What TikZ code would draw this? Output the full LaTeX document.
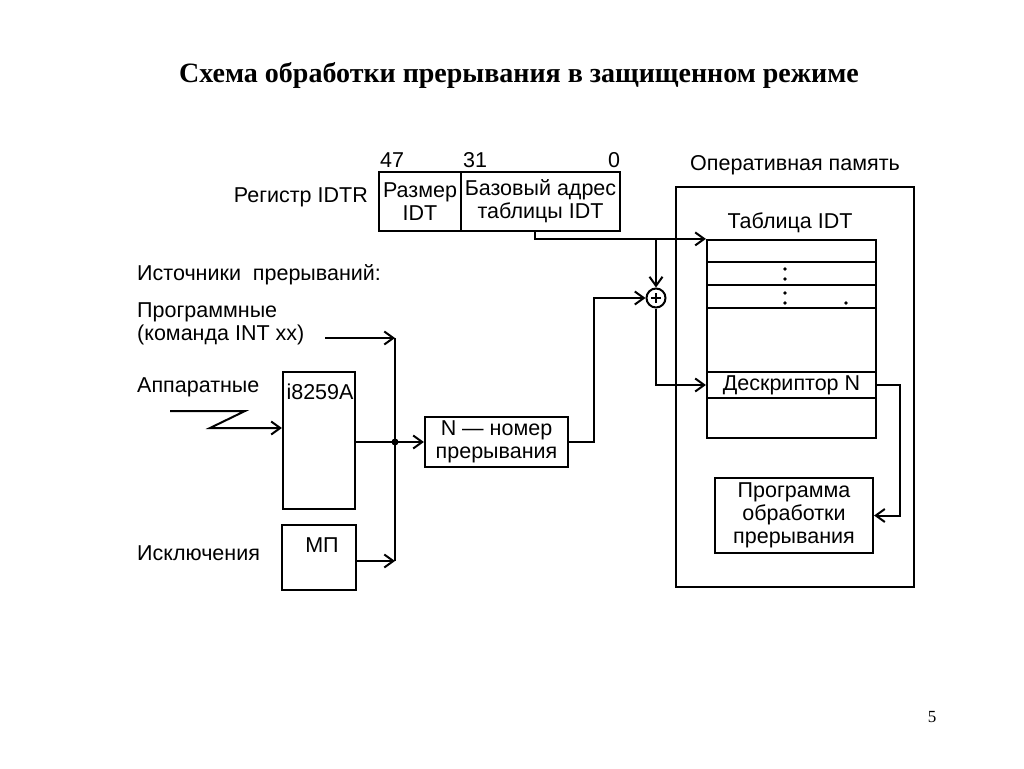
\documentclass[tikz,border=0pt]{standalone}
\usepackage{fontspec}
\setmainfont{Liberation Sans}
\newfontfamily\titlefont{Liberation Serif}
\usepackage{tikz}
\usetikzlibrary{arrows.meta}
\tikzset{>/.tip={Straight Barb[length=9pt,width=13pt,line width=2pt]},
  box/.style={draw, line width=2.2pt, inner sep=0pt, align=center},
  wire/.style={line width=2pt},
  txt/.style={font=\fontsize{21.5}{23}\selectfont, inner sep=0pt, align=center}}

\begin{document}
\begin{tikzpicture}[x=1pt, y=-1pt, every node/.style={txt}]
\useasboundingbox (0,0) rectangle (1024,768);
\node (title) at (519,75) {\titlefont\bfseries\fontsize{28}{30}\selectfont Схема обработки прерывания в защищенном режиме};
\node (page) at (932,717) {\titlefont\fontsize{17}{19}\selectfont 5};

% register
\node[box, minimum width=82, minimum height=59] (size) at (420,201.5) {Размер\\IDT};
\node[box, minimum width=159, minimum height=59] (base) at (540.5,201.5) {Базовый адрес\\таблицы IDT};
\node (b47) at (392,160) {47};
\node (b31) at (475,160) {31};
\node (b0) at (614,160) {0};
\node[anchor=east] (idtr) at (368,197) {Регистр IDTR};

% memory
\node[box, minimum width=238, minimum height=400] (ram) at (795,387) {};
\node (ramlbl) at (795,165) {Оперативная память};
\node (idtlbl) at (790,223) {Таблица IDT};
\node[box, minimum width=169, minimum height=198] (idt) at (791.5,339) {};
\foreach \y in {262,285,308}
  \draw[wire] (707,\y) -- (876,\y);
\node[box, minimum width=169, minimum height=26] (desc) at (791.5,385) {Дескриптор N};
\foreach \p in {(785,269),(785,279),(785,293),(785,303),(846,303)}
  \fill \p circle[radius=1.8pt];
\node[box, minimum width=158, minimum height=75] (isr) at (794,515.5) {Программа\\обработки\\прерывания};

% sources
\node[anchor=west] (src) at (137,275) {Источники\ \ прерываний:};
\node[anchor=west, align=left] (soft) at (137,323.5) {Программные\\(команда INT xx)};
\node[anchor=west] (hard) at (137,387) {Аппаратные};
\node[anchor=west] (exc) at (137,553) {Исключения};

\node[box, minimum width=72, minimum height=137] (pic) at (319,440.5) {};
\node (piclbl) at (320,392) {i8259A};
\node[box, minimum width=74, minimum height=65] (mp) at (319,557.5) {};
\node (mplbl) at (322,545) {МП};
\node[box, minimum width=143, minimum height=50] (num) at (496.5,442) {N — номер\\прерывания};
\node[draw, circle, line width=2pt, minimum size=19, inner sep=0pt] (sum) at (656,298) {};
\draw[line width=1.6pt] (sum.center) ++(-5,0) -- ++(10,0);
\draw[line width=1.6pt] (sum.center) ++(0,-5) -- ++(0,10);

\coordinate (prg) at (325,338);
\coordinate (bus1) at (395,338);
\coordinate (bus3) at (395,561);
\coordinate (hw) at (170,411);
\coordinate (zz) at (210,428);
\coordinate (tap) at (535,231);

\draw[wire, ->] (prg) -- (bus1);
\draw[wire] (bus1) -- (bus3);
\draw[wire, ->] (hw) -- ++(75,0) -- (zz) -- (zz -| pic.west);
\draw[wire, ->] (pic.east |- num.west) -- (num.west);
\fill (bus1 |- num.west) circle[radius=3.5pt];
\draw[wire, ->] (mp.east |- bus3) -- (bus3);
\draw[wire, ->] (num.east) -- ++(25,0) |- (sum.west);
\draw[wire, ->] (tap) |- (idt.north west);
\draw[wire, ->] (sum.north |- idt.north west) -- (sum.north);
\draw[wire, ->] (sum.south) |- (desc.west);
\draw[wire, ->] (desc.east) -- ++(23,0) |- (isr.east);
\end{tikzpicture}
\end{document}
